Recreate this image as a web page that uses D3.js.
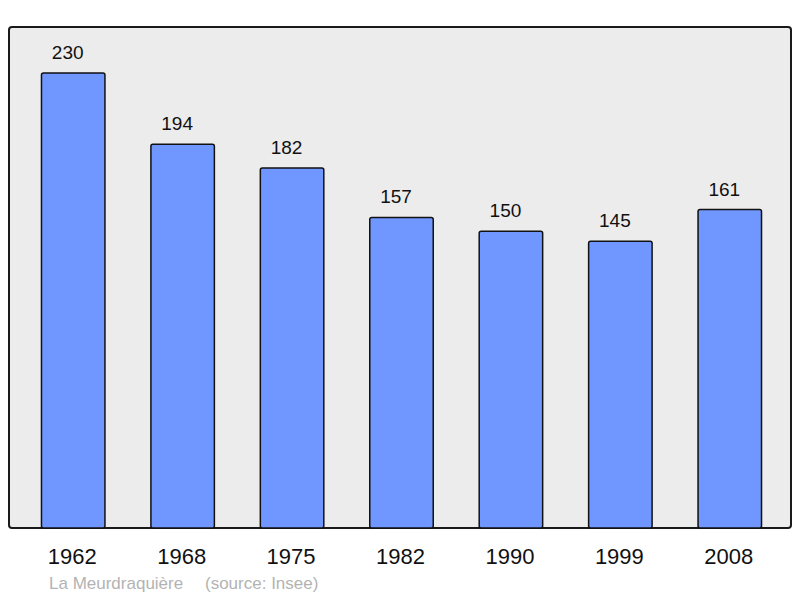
<!DOCTYPE html>
<html><head><meta charset="utf-8">
<script src="https://cdn.jsdelivr.net/npm/d3@7"></script>
<style>body{margin:0;background:#fff}svg{display:block}</style>
</head><body>
<script>
const years = ["1962","1968","1975","1982","1990","1999","2008"];
const population = [230,194,182,157,150,145,161];
const commune = "La Meurdraquière";
const source = "(source: Insee)";

const W=800,H=598;
const font="Liberation Sans, Arial, sans-serif";
const svg=d3.select("body").append("svg").attr("width",W).attr("height",H);
const frame={x0:9,y0:27,x1:791,y1:528};
svg.append("rect").attr("x",frame.x0).attr("y",frame.y0)
  .attr("width",frame.x1-frame.x0).attr("height",frame.y1-frame.y0)
  .attr("rx",3).attr("fill","#ececec").attr("stroke","#1a1a1a").attr("stroke-width",2);

const x=d3.scaleBand().domain(years).range([18.5,784.5]).paddingInner(0.42).paddingOuter(0.21);
const y=d3.scaleLinear().domain([0,230]).range([528,73]);

const g=svg.append("g");
g.selectAll("rect.bar").data(population).join("rect").attr("class","bar")
  .attr("x",(d,i)=>x(years[i])).attr("width",x.bandwidth())
  .attr("y",d=>y(d)).attr("height",d=>y(0)-y(d))
  .attr("rx",2).attr("fill","#7097ff").attr("stroke","#111").attr("stroke-width",1.5);

g.selectAll("text.val").data(population).join("text").attr("class","val")
  .attr("x",(d,i)=>x(years[i])+x.bandwidth()/2-5.5).attr("y",d=>y(d)-14)
  .attr("text-anchor","middle").attr("font-family",font)
  .attr("font-size",19).attr("fill","#111").text(d=>d);

const xa=svg.append("g").attr("transform",`translate(0,${frame.y1})`)
  .call(d3.axisBottom(x).tickSize(0).tickPadding(0));
xa.select(".domain").remove();
xa.selectAll("text").attr("dy",null).attr("y",36).attr("dx",-1)
  .attr("font-family",font).attr("font-size",22).attr("fill","#111");

svg.append("text").attr("x",49).attr("y",589).attr("font-family",font)
  .attr("font-size",17).attr("fill","#b3b3b3").text(commune);
svg.append("text").attr("x",205).attr("y",589).attr("font-family",font)
  .attr("font-size",17).attr("fill","#b3b3b3").text(source);
</script>
</body></html>
